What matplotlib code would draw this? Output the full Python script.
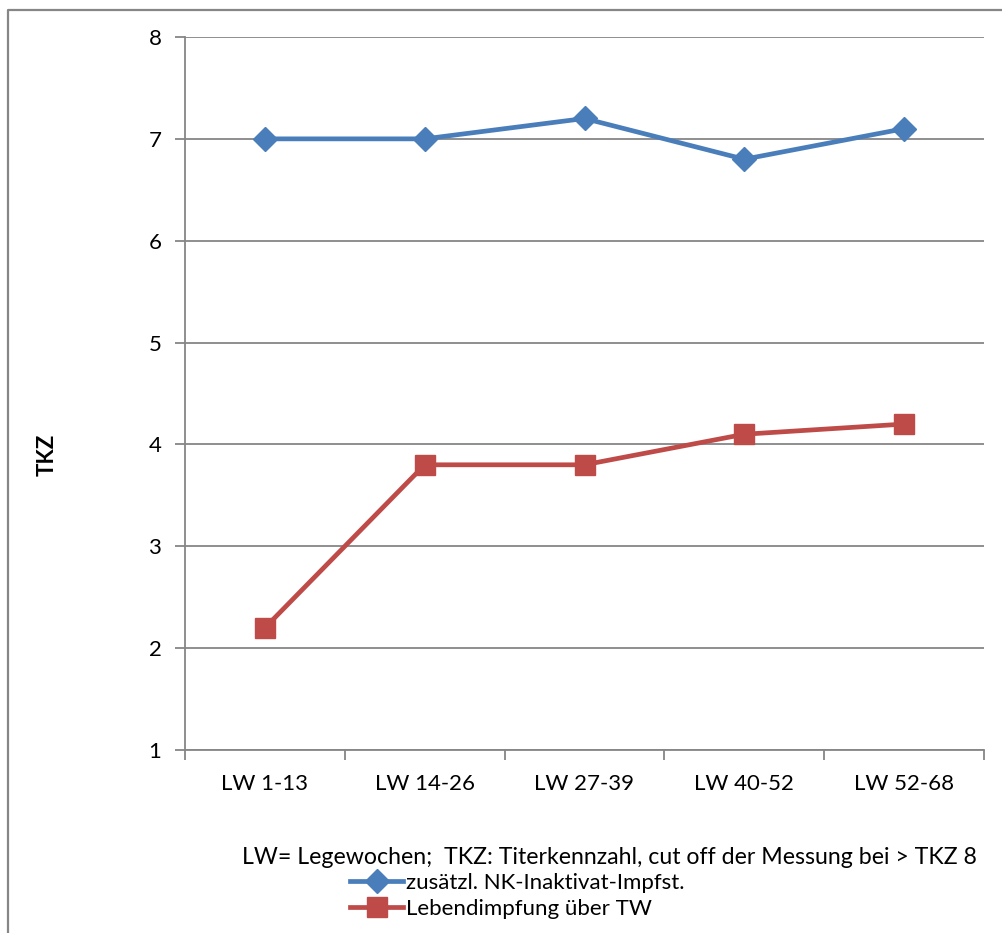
import matplotlib.pyplot as plt
from matplotlib.lines import Line2D

# Titer values per laying-week block
categories = ["LW 1-13", "LW 14-26", "LW 27-39", "LW 40-52", "LW 52-68"]
inaktivat = [7.0, 7.0, 7.2, 6.8, 7.1]
lebend = [2.2, 3.8, 3.8, 4.1, 4.2]
series_names = ["zusätzl. NK-Inaktivat-Impfst.", "Lebendimpfung über TW"]
note = "LW= Legewochen;  TKZ: Titerkennzahl, cut off der Messung bei > TKZ 8"

plt.rcParams['font.family'] = ['Lato', 'DejaVu Sans']
grid_col = "#868686"
blue = "#4A7EBB"
red = "#BE4B48"

W, H = 1003, 933
fig = plt.figure(figsize=(W / 100, H / 100), dpi=100)

ax = fig.add_axes([185 / W, (H - 750) / H, 799 / W, 713 / H])
x = list(range(len(categories)))

ax.plot(x, inaktivat, color=blue, lw=3.4, marker="D", markersize=12,
        label=series_names[0], solid_joinstyle="round")
ax.plot(x, lebend, color=red, lw=3.4, marker="s", markersize=14,
        label=series_names[1], solid_joinstyle="round")

ax.set_xlim(-0.5, len(categories) - 0.5)
ax.set_ylim(1, 8)
ax.set_yticks(range(1, 9))
ax.yaxis.grid(True, color=grid_col, lw=1.3)
ax.set_axisbelow(True)

ax.set_xticks(x)
ax.set_xticklabels(categories, fontsize=16)
ax.tick_params(axis="x", length=0, pad=17)
ax.set_xticks([i - 0.5 for i in range(len(categories) + 1)], minor=True)
ax.tick_params(axis="x", which="minor", length=7, color=grid_col, width=1.3)
ax.tick_params(axis="y", length=7, color=grid_col, width=1.3, labelsize=16, pad=10)

for side in ["top", "right"]:
    ax.spines[side].set_visible(False)
for side in ["left", "bottom"]:
    ax.spines[side].set_color(grid_col)
    ax.spines[side].set_linewidth(1.3)

# chart area border: left and top edges
top = 1 - 10 / H
fig.add_artist(Line2D([8.5 / W, 8.5 / W, 1.01], [-0.01, top, top],
                      transform=fig.transFigure, color=grid_col, lw=1.6, zorder=10))

fig.text(47 / W, 1 - 455 / H, "TKZ", fontsize=16, fontweight="bold",
         rotation=90, ha="center", va="center")

fig.text(977 / W, 1 - 858 / H, note, fontsize=16.7, ha="right", va="center")

fig.legend(loc="upper left", bbox_to_anchor=(350 / W, 1 - 873 / H),
           frameon=False, fontsize=16, handlelength=2.4, handletextpad=0.1,
           labelspacing=0.25, borderaxespad=0, borderpad=0)

fig.savefig("out.png", dpi=100, facecolor="white")
